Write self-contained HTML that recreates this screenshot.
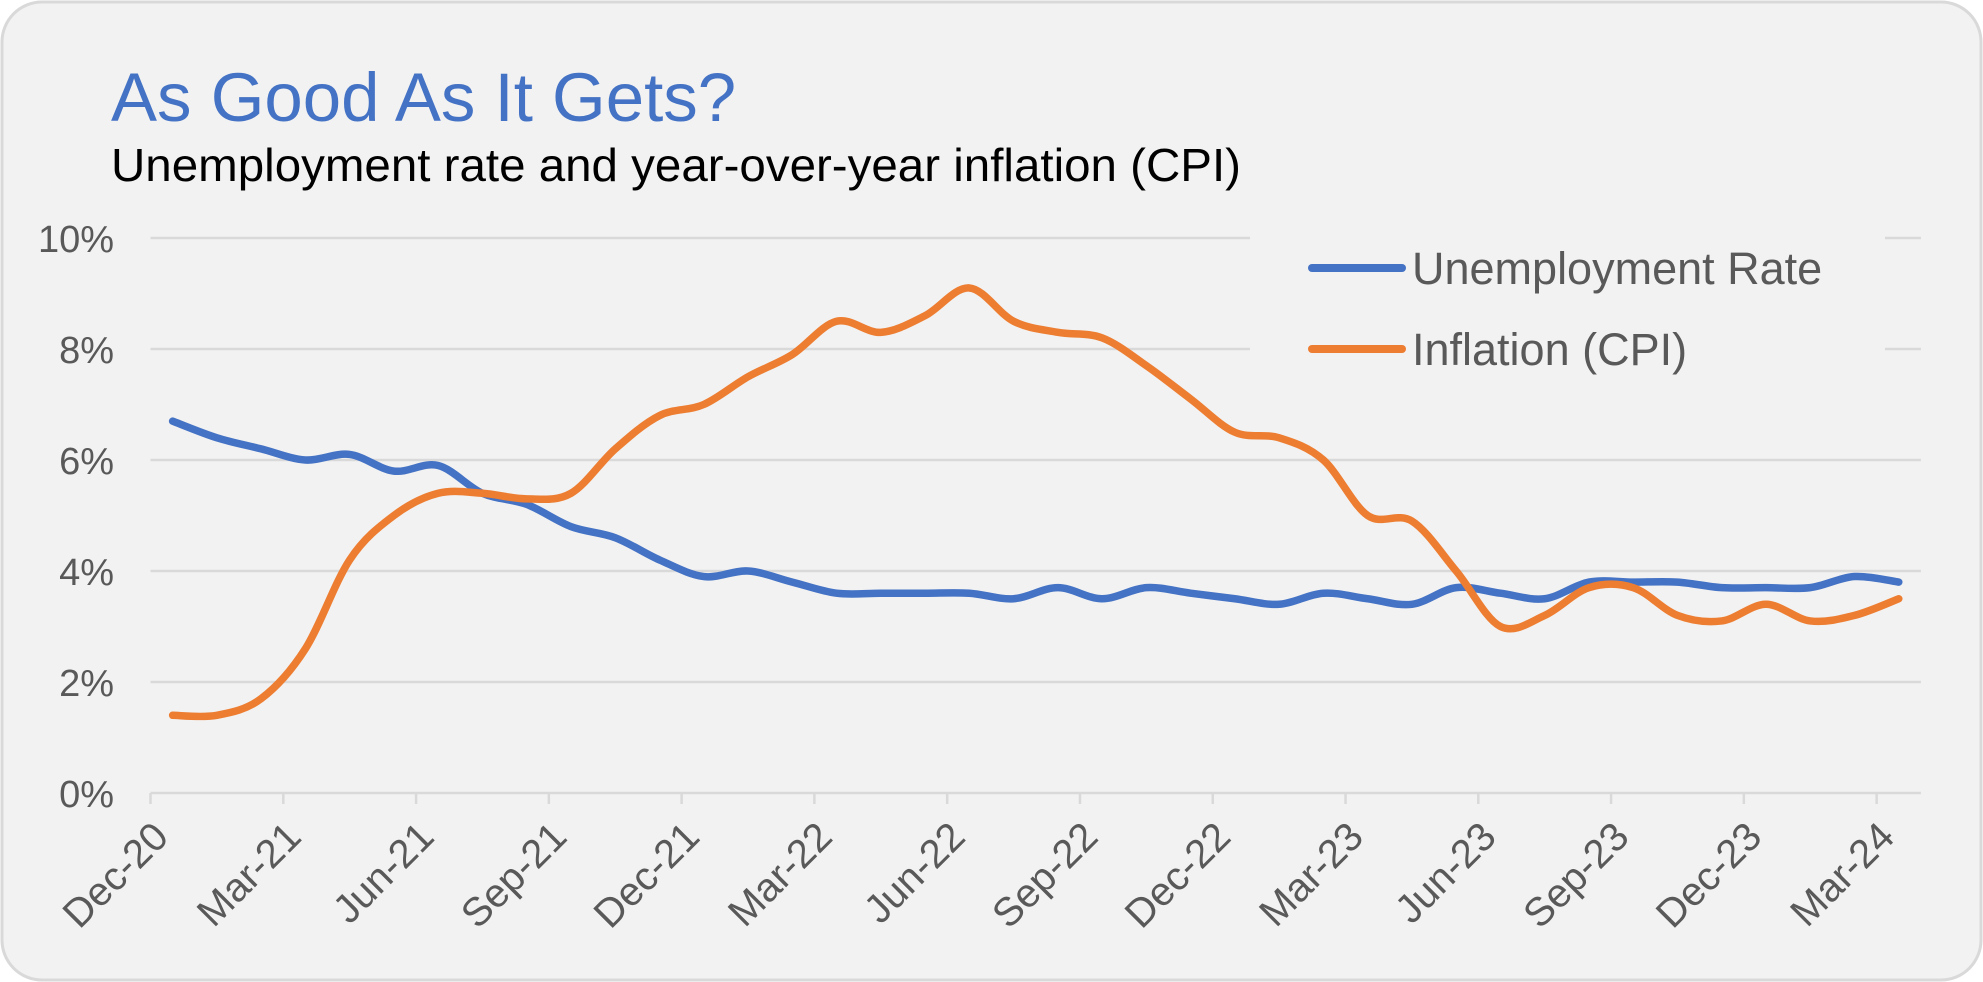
<!DOCTYPE html>
<html><head><meta charset="utf-8"><style>
html,body{margin:0;padding:0;background:#fff}
svg{display:block}
text{font-family:"Liberation Sans",sans-serif}
</style></head><body>
<svg width="1983" height="982" viewBox="0 0 1983 982">
<rect x="2" y="2" width="1979" height="978" rx="40" fill="#f2f2f2" stroke="#d9d9d9" stroke-width="3"/>
<text x="111" y="121" font-size="69" fill="#4472c4">As Good As It Gets?</text>
<text x="111" y="181" font-size="46" fill="#000" textLength="1130" lengthAdjust="spacingAndGlyphs">Unemployment rate and year-over-year inflation (CPI)</text>
<g id="grid"></g><g id="yl"></g><g id="xl"></g><g id="lines"></g>
<g>
<line x1="1312" y1="268" x2="1402" y2="268" stroke="#4472c4" stroke-width="8" stroke-linecap="round"/>
<text x="1412" y="284" font-size="45" fill="#595959">Unemployment Rate</text>
<line x1="1312" y1="349" x2="1402" y2="349" stroke="#ed7d31" stroke-width="8" stroke-linecap="round"/>
<text x="1412" y="365" font-size="45" fill="#595959">Inflation (CPI)</text>
</g>
</svg>
<script>
const tickLabels=["Dec-20","Mar-21","Jun-21","Sep-21","Dec-21","Mar-22","Jun-22","Sep-22","Dec-22","Mar-23","Jun-23","Sep-23","Dec-23","Mar-24"];
const yTicks=[0,2,4,6,8,10];
const unemployment=[6.7,6.4,6.2,6.0,6.1,5.8,5.9,5.4,5.2,4.8,4.6,4.2,3.9,4.0,3.8,3.6,3.6,3.6,3.6,3.5,3.7,3.5,3.7,3.6,3.5,3.4,3.6,3.5,3.4,3.7,3.6,3.5,3.8,3.8,3.8,3.7,3.7,3.7,3.9,3.8];
const inflation=[1.4,1.4,1.7,2.6,4.2,5.0,5.4,5.4,5.3,5.4,6.2,6.8,7.0,7.5,7.9,8.5,8.3,8.6,9.1,8.5,8.3,8.2,7.7,7.1,6.5,6.4,6.0,5.0,4.9,4.0,3.0,3.2,3.7,3.7,3.2,3.1,3.4,3.1,3.2,3.5];
const NS="http://www.w3.org/2000/svg";
const X0=150.5,MW=44.26,Y0=793,PY=55.5,XEND=X0+40*MW;
const xc=i=>X0+(i+0.5)*MW, yv=v=>Y0-v*PY;
function mk(t,a,p){const e=document.createElementNS(NS,t);for(const k in a)e.setAttribute(k,a[k]);p.appendChild(e);return e;}
const grid=document.getElementById('grid'),yl=document.getElementById('yl'),xl=document.getElementById('xl'),lines=document.getElementById('lines');
yTicks.forEach(v=>{
  const y=yv(v);
  if(v>=8){
    const a=mk('line',{x1:X0,x2:1250,y1:y,y2:y,stroke:'#d9d9d9','stroke-width':2.5},grid);
    
    
    const b=mk('line',{x1:1885,x2:XEND,y1:y,y2:y,stroke:'#d9d9d9','stroke-width':2.5},grid);
    
    
  } else {
    const a=mk('line',{x1:X0,x2:XEND,y1:y,y2:y,stroke:'#d9d9d9','stroke-width':2.5},grid);
    
    
  }
  const t=mk('text',{x:114,y:y+14,'font-size':38,fill:'#595959','text-anchor':'end'},yl);
  t.textContent=v+'%';
  
  
});
tickLabels.forEach((s,i)=>{
  const x=X0+i*3*MW;
  const tk=mk('line',{x1:x,x2:x,y1:Y0,y2:Y0+11,stroke:'#d9d9d9','stroke-width':2.5},grid);
  
  
  const t=mk('text',{x:x+20,y:Y0+46,'font-size':40,fill:'#595959','text-anchor':'end',transform:`rotate(-45 ${x+20} ${Y0+46})`},xl);
  t.textContent=s;
  
  
});
function smooth(vals){
  const p=vals.map((v,i)=>[xc(i),yv(v)]);
  let d=`M${p[0][0]},${p[0][1]}`;
  for(let i=0;i<p.length-1;i++){
    const p0=p[Math.max(0,i-1)],p1=p[i],p2=p[i+1],p3=p[Math.min(p.length-1,i+2)],k=1/6;
    d+=` C${p1[0]+(p2[0]-p0[0])*k},${p1[1]+(p2[1]-p0[1])*k} ${p2[0]-(p3[0]-p1[0])*k},${p2[1]-(p3[1]-p1[1])*k} ${p2[0]},${p2[1]}`;
  }
  return d;
}
const l1=mk('path',{d:smooth(unemployment),fill:'none',stroke:'#4472c4','stroke-width':7.5,'stroke-linecap':'round','stroke-linejoin':'round'},lines);


const l2=mk('path',{d:smooth(inflation),fill:'none',stroke:'#ed7d31','stroke-width':7.5,'stroke-linecap':'round','stroke-linejoin':'round'},lines);


</script>
</body></html>
